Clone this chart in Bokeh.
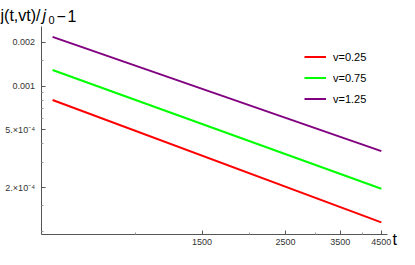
from bokeh.plotting import figure
from bokeh.models import (Range1d, FixedTicker, CustomJSTickFormatter, Label,
                          Legend, LegendItem)
from bokeh.embed import file_html
from bokeh.resources import INLINE

# ---- data ----
t_vals = [600, 4500]
v025 = [8.02e-4, 1.156e-4]
v075 = [1.29e-3, 1.97e-4]
v125 = [2.18e-3, 3.57e-4]
series_names = ["v=0.25", "v=0.75", "v=1.25"]
series_colors = ["#FF0000", "#00FF00", "#800080"]

x_major = [1500, 2500, 3500, 4500]
x_minor = [1000, 2000, 3000, 4000]
y_major = [2e-4, 5e-4, 1e-3, 2e-3]
y_minor = [1e-4, 1.5e-4, 3e-4, 4e-4, 6e-4, 7e-4, 8e-4, 9e-4, 1.5e-3]

x_axis_span = (559, 4683)
y_axis_span = (9.56e-5, 2.57e-3)

FONT = "Liberation Sans"
AXC = "#555555"
TXC = "#333333"

W, H = 399, 249
p = figure(width=W, height=H, output_backend="svg", toolbar_location=None,
           x_axis_type="log", y_axis_type="log",
           x_range=Range1d(436.1, 5030), y_range=Range1d(7.52e-5, 3.879e-3),
           min_border_left=0, min_border_right=0, min_border_top=0,
           min_border_bottom=0)
p.outline_line_color = None
p.grid.visible = False
p.background_fill_color = "white"
p.border_fill_color = "white"

renderers = []
for ys, c in zip([v025, v075, v125], series_colors):
    r = p.line(t_vals, ys, line_color=c, line_width=2)
    renderers.append(r)

for ax in (p.xaxis[0], p.yaxis[0]):
    ax.axis_line_color = AXC
    ax.axis_line_width = 1
    ax.major_tick_line_color = AXC
    ax.minor_tick_line_color = "#999999"
    ax.major_tick_in = 4
    ax.major_tick_out = 0
    ax.minor_tick_in = 2
    ax.minor_tick_out = 0
    ax.major_label_text_font = FONT
    ax.major_label_text_font_size = "9px"
    ax.major_label_text_color = TXC

xa = p.xaxis[0]
xa.ticker = FixedTicker(ticks=x_major, minor_ticks=x_minor)
xa.formatter = CustomJSTickFormatter(code="return String(Math.round(tick));")
xa.major_label_standoff = 5
xa.bounds = x_axis_span
xa.fixed_location = y_axis_span[0]

ya = p.yaxis[0]
ya.ticker = FixedTicker(ticks=y_major, minor_ticks=y_minor)
ya.formatter = CustomJSTickFormatter(code="""
if (Math.abs(tick - 0.002) < 1e-9) return "0.002";
if (Math.abs(tick - 0.001) < 1e-9) return "0.001";
if (Math.abs(tick - 0.0005) < 1e-9) return "5.\u00d710\u207b\u2074";
if (Math.abs(tick - 0.0002) < 1e-9) return "2.\u00d710\u207b\u2074";
return String(tick);
""")
ya.major_label_standoff = 6
ya.bounds = y_axis_span
ya.fixed_location = x_axis_span[0]

# legend
items = [LegendItem(label=n, renderers=[r]) for n, r in zip(series_names, renderers)]
leg = Legend(items=items, location=(304, 144), orientation="vertical",
             background_fill_alpha=0, border_line_color=None,
             label_text_font=FONT, label_text_font_size="11px",
             label_text_color="black", glyph_width=22, glyph_height=13,
             label_height=13, spacing=8, padding=0, margin=0,
             label_standoff=7)
p.add_layout(leg)

def lab(x, y, text, size, style="normal"):
    p.add_layout(Label(x=x, y=y, x_units="screen", y_units="screen", text=text,
                       text_font=FONT, text_font_size=size, text_font_style=style,
                       text_color="black", text_baseline="alphabetic"))

# title pieces (frame-relative screen coords, origin bottom-left)
TB = H - 15
lab(0, TB, "j(t,vt)/", "16px")
lab(42, TB, "j", "16px", "italic")
lab(48, TB - 4, "0", "11px")
lab(56, TB, "\u2212", "16px")
lab(67, TB, "1", "16px")

# axis label "t"
lab(392, 10, "t", "16px")

open("out.html", "w").write(file_html(p, INLINE))
